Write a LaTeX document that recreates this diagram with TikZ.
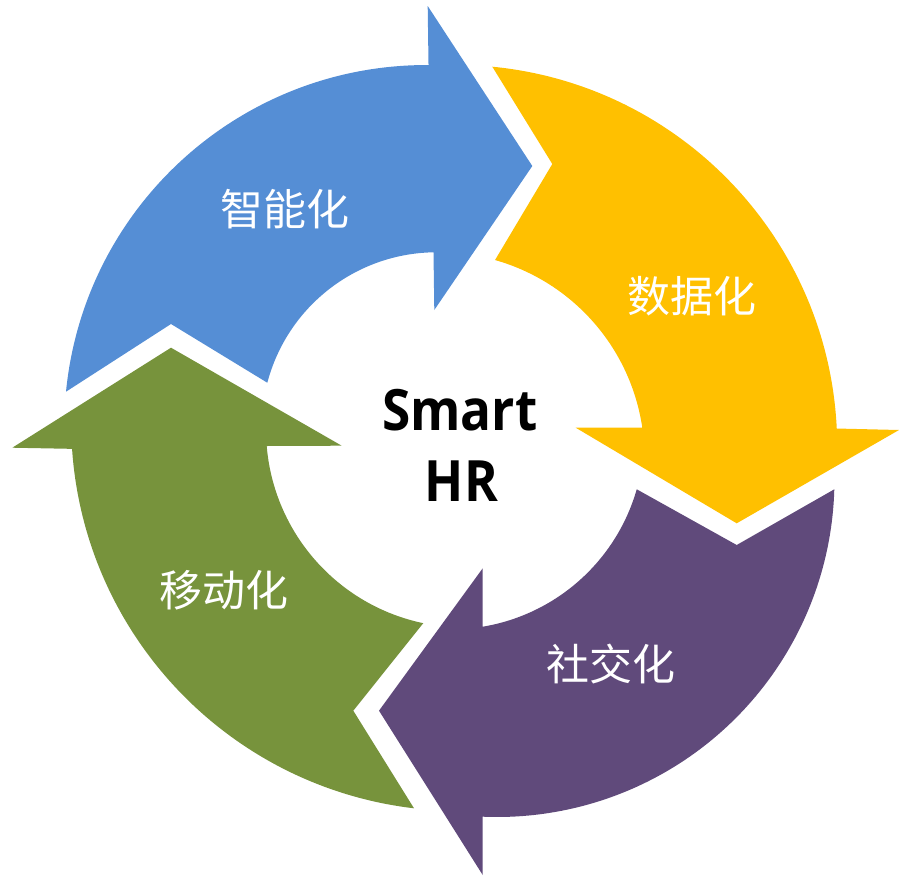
\documentclass[tikz,border=0pt]{standalone}
\usepackage{fontspec}
\setmainfont{Open Sans}
\newfontfamily\titlefont[FakeStretch=0.9]{Open Sans}
\newfontfamily\cjk{Noto Sans CJK SC}
\definecolor{arrblue}{RGB}{85,142,213}
\definecolor{arryellow}{RGB}{255,192,0}
\definecolor{arrpurple}{RGB}{96,74,123}
\definecolor{arrgreen}{RGB}{119,147,60}
\begin{document}
\begin{tikzpicture}[x=1pt,y=-1pt,
  arrowshape/.style={draw=none},
  lbl/.style={font=\cjk\fontsize{43}{50}\selectfont, text=white, inner sep=0pt, anchor=center},
  titletext/.style={font=\titlefont\bfseries\fontsize{57}{70}\selectfont, text=black, inner sep=0pt, anchor=base}]
\useasboundingbox (0,0) rectangle (900,878);

% blue arrow
\fill[arrowshape, arrblue] (427.7,6) -- (532.3,166) -- (434.3,310) -- (433.5,252.3)
  arc[start angle=269.0, end angle=194.75, radius=175]
  -- (171,324) -- (66,391.7)
  arc[start angle=185.63, end angle=270.33, radius=362.2]
  -- cycle;

% yellow arrow
\fill[arrowshape, arryellow] (899,430) -- (736.7,523.3) -- (575.7,427.7) -- (642.3,427.7)
  arc[start angle=-8.39, end angle=-74.2, radius=205.4]
  -- (552.3,164) -- (492.3,66.7)
  arc[start angle=-84.44, end angle=-2.74, radius=381.9]
  -- cycle;

% purple arrow
\fill[arrowshape, arrpurple] (482.7,875) -- (379,710.7) -- (482.7,568.3) -- (482.7,626.7)
  arc[start angle=80.55, end angle=15.97, radius=193.2]
  -- (736.7,545) -- (834.3,489.3)
  arc[start angle=1.63, end angle=92.45, radius=337.3]
  -- cycle;

% green arrow
\fill[arrowshape, arrgreen] (12.3,447.7) -- (171,347.7) -- (341.7,445.7) -- (266.7,446)
  arc[start angle=175.24, end angle=101.83, radius=197.8]
  -- (353.3,710.7) -- (414,808.3)
  arc[start angle=96.76, end angle=176.1, radius=388.6]
  -- cycle;

% labels
\node[lbl] (lblblue) at (285,209.3) {智能化};
\node[lbl] (lblyellow) at (692.2,296.3) {数据化};
\node[lbl] (lblpurple) at (610.7,663.8) {社交化};
\node[lbl] (lblgreen) at (224.3,590.3) {移动化};

\node[titletext] (smart) at (459.7,430) {Smart};
\node[titletext] (hr) at (461.4,501.7) {HR};
\end{tikzpicture}
\end{document}
